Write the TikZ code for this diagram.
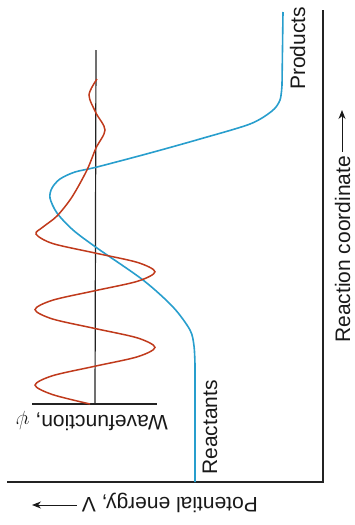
\documentclass[tikz,border=0pt]{standalone}
\usepackage{fontspec}
\setmainfont{Liberation Sans}
\usetikzlibrary{arrows.meta,calc}
\definecolor{potblue}{RGB}{40,158,205}
\definecolor{wavered}{RGB}{192,58,28}
\definecolor{axisgray}{RGB}{35,35,35}
\begin{document}
\begin{tikzpicture}[x=1pt,y=-1pt,
  lbl/.style={inner sep=0pt, font=\fontsize{21}{25}\selectfont, text=black!90},
  axisline/.style={draw=axisgray, line width=1.2pt},
  potline/.style={draw=potblue, line width=1.6pt},
  waveline/.style={draw=wavered, line width=1.5pt},
  lblarrow/.style={draw=black!90, line width=1pt, -{Stealth[length=9pt,width=7pt]}}]
\useasboundingbox (0,0) rectangle (354,525);
% main axes
\coordinate (origin) at (7,482);
\coordinate (corner) at (323,482);
\coordinate (rtop) at (323,10);
\draw[axisline] (origin) -- (corner) -- (rtop);
% wavefunction axes
\coordinate (wtop) at (96,50);
\coordinate (wbase) at (95,404);
\coordinate (wl) at (32,404);
\coordinate (wr) at (157,404);
\draw[axisline] (wtop) -- (wbase);
\draw[axisline] (wl) -- (wr);
% potential energy curve
\draw[potline] (195,482) -- (195,365) -- plot[smooth] coordinates {
 (195,365) (194,346) (190,330) (173,307) (143,280) (97,248) (73,230)
 (57,213) (50,198) (52,188) (60,179) (75,172) (97,167) (150,153)
 (200,139) (250,124) (272,111) (280,100) (282,85)} -- (283,12);
% wavefunction
\draw[waveline] plot[smooth] coordinates {
 (90,404) (52.6,394.6) (35,385.1) (52.6,375.7) (95,366.2) (137.4,356.8)
 (155,347.4) (137.4,337.9) (95,328.5) (52.6,319.0) (35,309.6) (52.6,300.2)
 (95,290.7) (137.4,281.3) (155,271.8) (137.4,262.4) (95,253.0) (52.6,243.5)
 (36,234.1) (43,227) (57,216) (72,197) (87,170) (96,148) (105,130)
 (96,113) (89,95) (97,79)};
% labels
\node[lbl, rotate=90, anchor=base west] (prod) at (305,90) {Products};
\node[lbl, rotate=90, anchor=base west] (react) at (217,475) {Reactants};
\node[lbl, rotate=90, anchor=base west] (rc) at (350,343) {Reaction coordinate};
\coordinate (rctip) at (342,110);
\draw[lblarrow] ($(rc.base east)+(-8,-4)$) -- (rctip);
\node[lbl, rotate=180, anchor=base west] (pe) at (258,497) {Potential energy, V};
\coordinate (petip) at (32,505);
\draw[lblarrow] ($(pe.base east)+(-5,8)$) -- (petip);
\node[lbl, rotate=180, anchor=base west] (wf) at (168,415) {Wavefunction, $\psi$};
\end{tikzpicture}
\end{document}
